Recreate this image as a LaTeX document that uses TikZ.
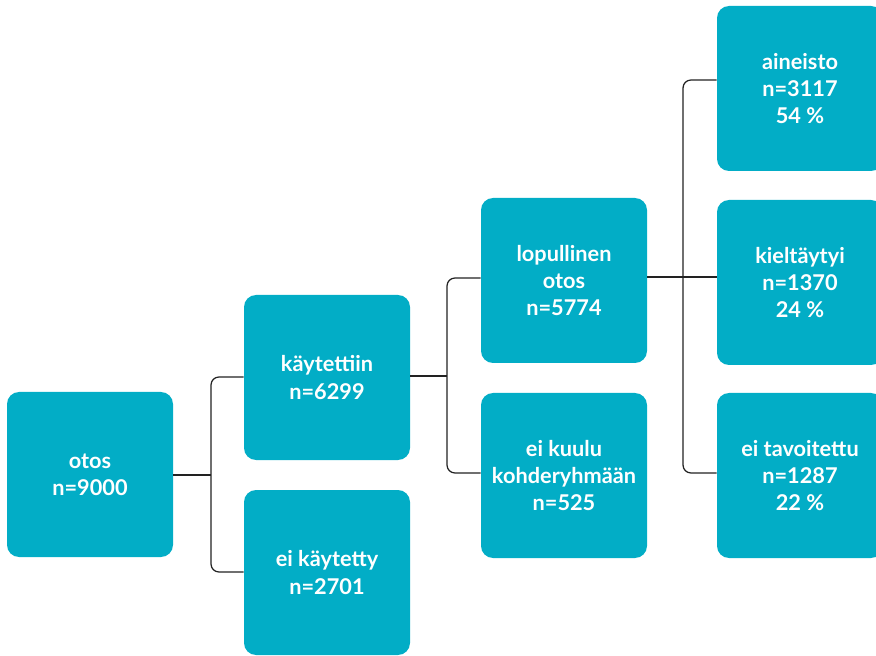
\documentclass[tikz,border=0pt]{standalone}
\usepackage{fontspec}
\setmainfont{Lato}
\definecolor{boxcol}{HTML}{02ADC6}
\definecolor{linecol}{HTML}{222222}
\begin{document}
\begin{tikzpicture}[x=0.75pt,y=-0.75pt,
  box/.style={fill=boxcol,draw=none,rounded corners=9pt,minimum width=124.5pt,minimum height=123.75pt,
    text=white,align=center,font=\fontsize{16.3pt}{20.4pt}\selectfont\bfseries,inner sep=0pt},
  conn/.style={draw=linecol,line width=0.95pt,rounded corners=6pt}]
\useasboundingbox (0,0) rectangle (876,656);
\begin{scope}
\clip (0,0) rectangle (876,656);
\node[box] (otos) at (90,474.5) {otos\\n=9000};
\node[box] (kay) at (327,377.5) {käytettiin\\n=6299};
\node[box] (eik) at (327,572.5) {ei käytetty\\n=2701};
\node[box] (lop) at (564,280.5) {lopullinen\\otos\\n=5774};
\node[box] (eikuu) at (564,475.5) {ei kuulu\\kohderyhmään\\n=525};
\node[box] (ain) at (800,88.5) {aineisto\\n=3117\\54 \%};
\node[box] (kie) at (800,282.5) {kieltäytyi\\n=1370\\24 \%};
\node[box] (tav) at (800,475.5) {ei tavoitettu\\n=1287\\22 \%};
\end{scope}
\coordinate (j1) at (211,475);
\coordinate (j2) at (447,376);
\coordinate (j3) at (683,277);
\draw[conn] (otos.east |- j1) -- (j1);
\draw[conn] (kay.west |- 0,377) -| (j1) |- (eik.west |- 0,572);
\draw[conn] (kay.east |- j2) -- (j2);
\draw[conn] (lop.west |- 0,278) -| (j2) |- (eikuu.west |- 0,473);
\draw[conn] (lop.east |- j3) -- (kie.west |- j3);
\draw[conn] (ain.west |- 0,80) -| (j3) |- (tav.west |- 0,473);
\end{tikzpicture}
\end{document}
